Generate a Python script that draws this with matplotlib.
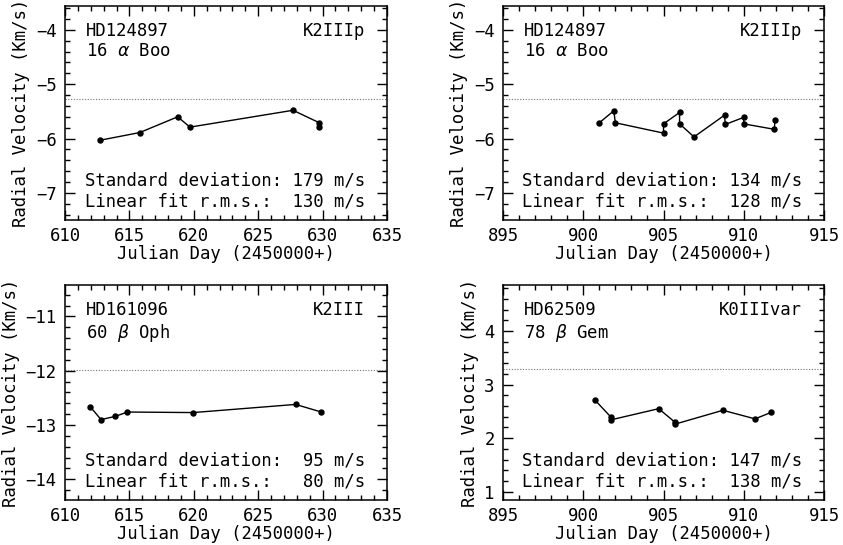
import matplotlib
matplotlib.use("Agg")
import matplotlib.pyplot as plt
from matplotlib.ticker import MultipleLocator

plt.rcParams['font.family'] = ['DejaVu Sans Mono', 'DejaVu Sans']
plt.rcParams['font.size'] = 12.4
plt.rcParams['mathtext.fontset'] = 'dejavusans'

# Panel data (Julian Day - 2450000, radial velocity in km/s)
jd_boo1 = [612.75, 615.8, 618.75, 619.7, 627.7, 629.75, 629.75]
rv_boo1 = [-6.03, -5.89, -5.60, -5.79, -5.48, -5.71, -5.79]

jd_boo2 = [901.0, 901.9, 902.0, 905.0, 905.0, 906.0, 906.0, 906.9,
           908.8, 908.85, 910.0, 910.0, 911.9, 911.95]
rv_boo2 = [-5.71, -5.49, -5.71, -5.90, -5.73, -5.52, -5.73, -5.97,
           -5.57, -5.74, -5.61, -5.73, -5.83, -5.65]

jd_oph = [611.95, 612.8, 613.9, 614.85, 619.95, 627.9, 629.9]
rv_oph = [-12.66, -12.90, -12.84, -12.76, -12.77, -12.62, -12.76]

jd_gem = [900.7, 901.7, 901.7, 904.7, 905.7, 905.7, 908.7, 910.7, 911.7]
rv_gem = [2.72, 2.40, 2.34, 2.55, 2.30, 2.26, 2.52, 2.36, 2.48]

panels = [
    dict(jd=jd_boo1, rv=rv_boo1, name="HD124897", star=r"16 $\alpha$ Boo", sp="K2IIIp",
         mean=-5.28, xlim=(610, 635), ylim=(-7.5, -3.56),
         std="Standard deviation: 179 m/s", fit="Linear fit r.m.s.:  130 m/s"),
    dict(jd=jd_boo2, rv=rv_boo2, name="HD124897", star=r"16 $\alpha$ Boo", sp="K2IIIp",
         mean=-5.28, xlim=(895, 915), ylim=(-7.5, -3.56),
         std="Standard deviation: 134 m/s", fit="Linear fit r.m.s.:  128 m/s"),
    dict(jd=jd_oph, rv=rv_oph, name="HD161096", star=r"60 $\beta$ Oph", sp="K2III",
         mean=-11.99, xlim=(610, 635), ylim=(-14.38, -10.42),
         std="Standard deviation:  95 m/s", fit="Linear fit r.m.s.:   80 m/s"),
    dict(jd=jd_gem, rv=rv_gem, name="HD62509", star=r"78 $\beta$ Gem", sp="K0IIIvar",
         mean=3.30, xlim=(895, 915), ylim=(0.845, 4.86),
         std="Standard deviation: 147 m/s", fit="Linear fit r.m.s.:  138 m/s"),
]

rects = [
    [0.0771, 0.5963, 0.382, 0.3927],
    [0.5967, 0.5963, 0.3808, 0.3927],
    [0.0771, 0.0826, 0.382, 0.3945],
    [0.5967, 0.0826, 0.3808, 0.3945],
]

fig = plt.figure(figsize=(8.43, 5.45), dpi=100)

for p, r in zip(panels, rects):
    ax = fig.add_axes(r)
    ax.axhline(p["mean"], color="0.45", lw=0.8, ls=(0, (1, 1.5)))
    ax.plot(p["jd"], p["rv"], color="black", lw=1.0, marker="o", ms=3.6)
    ax.set_xlim(*p["xlim"])
    ax.set_ylim(*p["ylim"])
    ax.xaxis.set_major_locator(MultipleLocator(5))
    ax.xaxis.set_minor_locator(MultipleLocator(1))
    ax.yaxis.set_major_locator(MultipleLocator(1))
    ax.yaxis.set_minor_locator(MultipleLocator(0.2))
    ax.tick_params(which="both", direction="in", top=True, right=True, width=1.0)
    ax.tick_params(which="major", length=7, pad=6)
    ax.tick_params(axis="x", which="major", pad=5)
    ax.tick_params(which="minor", length=3.5)
    for s in ax.spines.values():
        s.set_linewidth(1.1)
    ax.set_xlabel("Julian Day (2450000+)", labelpad=0)
    ax.set_ylabel("Radial Velocity (Km/s)", labelpad=4)

    ax.text(0.065, 0.925, p["name"], transform=ax.transAxes, ha="left", va="top")
    ax.text(0.065, 0.83, p["star"], transform=ax.transAxes, ha="left", va="top")
    ax.text(0.932, 0.925, p["sp"], transform=ax.transAxes, ha="right", va="top")
    ax.text(0.932, 0.225, p["std"], transform=ax.transAxes, ha="right", va="top")
    ax.text(0.932, 0.127, p["fit"], transform=ax.transAxes, ha="right", va="top")

fig.savefig("out.png", dpi=100)
